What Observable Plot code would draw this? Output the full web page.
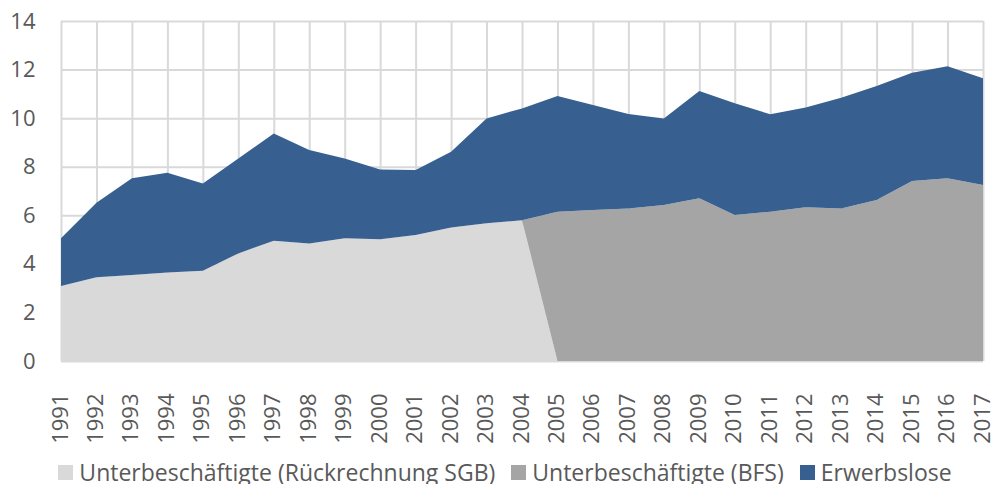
<!DOCTYPE html>
<html>
<head>
<meta charset="utf-8">
<script src="https://cdn.jsdelivr.net/npm/d3@7"></script>
<script src="https://cdn.jsdelivr.net/npm/@observablehq/plot@0.6"></script>
<style>
  html, body { margin: 0; padding: 0; background: #fff; overflow: hidden; }
  #chart { width: 994px; }
  #chart svg { overflow: visible; }
  .legend { display: flex; justify-content: center; align-items: center; padding-left: 16px;
    font-family: "Open Sans", sans-serif; font-size: 23px; color: #595959; margin-top: 20px; line-height: 24px; }
  .legend .item { display: flex; align-items: center; margin-right: 16px; }
  .legend .item:last-child { margin-right: 0; }
  .legend .sw { width: 15px; height: 15px; margin-right: 6px; }
</style>
</head>
<body>
<div id="chart"></div>
<script>
const years = [1991,1992,1993,1994,1995,1996,1997,1998,1999,2000,2001,2002,2003,2004,2005,2006,2007,2008,2009,2010,2011,2012,2013,2014,2015,2016,2017];
const seriesNames = ["Unterbeschäftigte (Rückrechnung SGB)", "Unterbeschäftigte (BFS)", "Erwerbslose"];
const seriesColors = ["#d9d9d9", "#a5a5a5", "#376091"];
// Unterbeschäftigte (Rückrechnung SGB), 1991–2004
const sgbYears = [1991,1992,1993,1994,1995,1996,1997,1998,1999,2000,2001,2002,2003,2004];
const sgbValues = [3.09,3.45,3.54,3.64,3.72,4.43,4.95,4.84,5.05,5.01,5.19,5.50,5.67,5.80];
// Unterbeschäftigte (BFS), 2005–2017
const bfsYears = [2005,2006,2007,2008,2009,2010,2011,2012,2013,2014,2015,2016,2017];
const bfsValues = [6.15,6.22,6.28,6.42,6.70,6.01,6.15,6.33,6.28,6.63,7.41,7.52,7.25];
// Erwerbslose, 1991–2017
const erwerbsloseValues = [1.96,3.07,3.98,4.11,3.59,3.91,4.42,3.85,3.29,2.88,2.67,3.12,4.32,4.60,4.76,4.32,3.89,3.57,4.42,4.60,4.01,4.11,4.56,4.69,4.46,4.62,4.39];
const yTicks = [0,2,4,6,8,10,12,14];

const data = [];
years.forEach((yr, i) => {
  const si = sgbYears.indexOf(yr);
  const bi = bfsYears.indexOf(yr);
  data.push({year: yr, series: seriesNames[0], value: si >= 0 ? sgbValues[si] : 0});
  data.push({year: yr, series: seriesNames[1], value: bi >= 0 ? bfsValues[bi] : 0});
  data.push({year: yr, series: seriesNames[2], value: erwerbsloseValues[i]});
});

const chart = Plot.plot({
  width: 994,
  height: 440,
  marginLeft: 61,
  marginRight: 11,
  marginTop: 21,
  marginBottom: 79,
  style: {fontFamily: "Open Sans, sans-serif", fontSize: "22px", color: "#595959", background: "#fff"},
  x: {type: "linear", domain: [years[0], years[years.length - 1]]},
  y: {domain: [0, 14]},
  color: {domain: seriesNames, range: seriesColors},
  marks: [
    Plot.gridY(yTicks, {stroke: "#d9d9d9", strokeOpacity: 1, strokeWidth: 2}),
    Plot.gridX(years, {stroke: "#d9d9d9", strokeOpacity: 1, strokeWidth: 2}),
    Plot.areaY(data, {x: "year", y: "value", fill: "series", z: "series", order: seriesNames}),
    Plot.axisY({ticks: yTicks, tickSize: 0, tickPadding: 26, label: null}),
    Plot.axisX({ticks: years, tickFormat: d => String(d), tickRotate: -90, tickSize: 0, tickPadding: 32, dx: -1, label: null})
  ]
});
document.getElementById("chart").appendChild(chart);

const legend = document.createElement("div");
legend.className = "legend";
seriesNames.forEach((name, i) => {
  const item = document.createElement("div");
  item.className = "item";
  const sw = document.createElement("div");
  sw.className = "sw";
  sw.style.background = seriesColors[i];
  const label = document.createElement("span");
  label.textContent = name;
  item.appendChild(sw);
  item.appendChild(label);
  legend.appendChild(item);
});
document.getElementById("chart").appendChild(legend);
</script>
</body>
</html>
